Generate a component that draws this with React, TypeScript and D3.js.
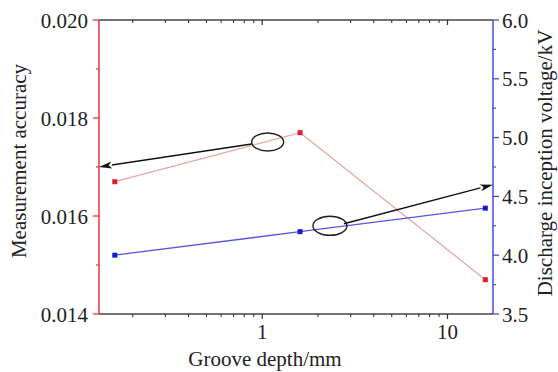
import React from "react";
import * as d3 from "d3";

const depths = [0.16, 1.6, 16];
const accuracy = [0.0167, 0.0177, 0.0147];
const voltage = [4.0, 4.2, 4.4];
const leftTicks = [0.014, 0.016, 0.018, 0.02];
const leftMinor = [0.015, 0.017, 0.019];
const rightTicks = [3.5, 4.0, 4.5, 5.0, 5.5, 6.0];
const rightMinor = [3.75, 4.25, 4.75, 5.25, 5.75];
const xTicks = [1, 10];
const xMinor = [0.2, 0.3, 0.4, 0.5, 0.6, 0.7, 0.8, 0.9, 2, 3, 4, 5, 6, 7, 8, 9];
// annotation: ellipse centers (x, value) and arrow targets
const leftNote = { cx: 1.07, cy: 0.01751, target: 0.017 };
const rightNote = { cx: 2.32, cy: 4.25, target: 4.6 };

const W = 558, H = 372;
const L = 99, R = 493, T = 20, B = 314;
const FONT = "Liberation Serif, Times New Roman, serif";

export default function App() {
  const x = d3.scaleLog().domain([0.1315, 17.6]).range([L, R]);
  const yL = d3.scaleLinear().domain([0.014, 0.02]).range([B, T]);
  const yR = d3.scaleLinear().domain([3.5, 6.0]).range([B, T]);
  const redLine = d3.line<number>().x((_, i) => x(depths[i])).y((d) => yL(d));
  const blueLine = d3.line<number>().x((_, i) => x(depths[i])).y((d) => yR(d));
  const fmt3 = d3.format(".3f");
  const fmt1 = d3.format(".1f");
  const rx = 16, ry = 9;
  const ts = { fontFamily: FONT, fontSize: 21, fill: "#222" } as React.CSSProperties;

  const arrow = (x1: number, y1: number, x2: number, y2: number) => {
    const ang = Math.atan2(y2 - y1, x2 - x1);
    const len = 13, wid = 3.5;
    const bx = x2 - len * Math.cos(ang), by = y2 - len * Math.sin(ang);
    const px = -Math.sin(ang) * wid, py = Math.cos(ang) * wid;
    return (
      <g>
        <line x1={x1} y1={y1} x2={bx} y2={by} stroke="#111" strokeWidth={1.4} />
        <path d={`M${x2},${y2}L${bx + px},${by + py}L${bx + (x2 - bx) * 0.25},${by + (y2 - by) * 0.25}L${bx - px},${by - py}Z`} fill="#111" />
      </g>
    );
  };

  const lcx = x(leftNote.cx), lcy = yL(leftNote.cy);
  const rcx = x(rightNote.cx), rcy = yR(rightNote.cy);

  return (
    <svg width={W} height={H} style={{ position: "absolute", left: 0, top: 0, background: "#fff" }}>
      <rect x={0} y={0} width={W} height={H} fill="#fff" />
      {/* top & bottom axes */}
      <line x1={L} x2={R} y1={T} y2={T} stroke="#444" strokeWidth={1.3} />
      <line x1={L} x2={R} y1={B} y2={B} stroke="#444" strokeWidth={1.3} />
      {xTicks.map((t) => (
        <g key={"xt" + t}>
          <line x1={x(t)} x2={x(t)} y1={B} y2={B + 5} stroke="#333" strokeWidth={1.2} />
          <line x1={x(t)} x2={x(t)} y1={T} y2={T + 5} stroke="#333" strokeWidth={1.2} />
          <text x={x(t)} y={339} textAnchor="middle" style={ts}>{t}</text>
        </g>
      ))}
      {xMinor.map((t) => (
        <g key={"xm" + t}>
          <line x1={x(t)} x2={x(t)} y1={B} y2={B + 3} stroke="#333" strokeWidth={1.1} />
          <line x1={x(t)} x2={x(t)} y1={T} y2={T + 3} stroke="#333" strokeWidth={1.1} />
        </g>
      ))}
      {/* left axis */}
      <line x1={L} x2={L} y1={T} y2={B} stroke="#e8333d" strokeWidth={1.5} />
      {leftTicks.map((t) => (
        <g key={"lt" + t}>
          <line x1={L - 6} x2={L} y1={yL(t)} y2={yL(t)} stroke="#e8333d" strokeWidth={1.3} />
          <text x={88} y={yL(t) + 7.5} textAnchor="end" style={ts}>{fmt3(t)}</text>
        </g>
      ))}
      {leftMinor.map((t) => (
        <line key={"lm" + t} x1={L - 3} x2={L} y1={yL(t)} y2={yL(t)} stroke="#e8333d" strokeWidth={1.2} />
      ))}
      {/* right axis */}
      <line x1={R} x2={R} y1={T} y2={B} stroke="#4a4ad8" strokeWidth={1.5} />
      {rightTicks.map((t) => (
        <g key={"rt" + t}>
          <line x1={R} x2={R + 6} y1={yR(t)} y2={yR(t)} stroke="#4a4ad8" strokeWidth={1.3} />
          <text x={502} y={yR(t) + 7.5} textAnchor="start" style={ts}>{fmt1(t)}</text>
        </g>
      ))}
      {rightMinor.map((t) => (
        <line key={"rm" + t} x1={R} x2={R + 3} y1={yR(t)} y2={yR(t)} stroke="#4a4ad8" strokeWidth={1.2} />
      ))}
      {/* series */}
      <path d={redLine(accuracy) || ""} fill="none" stroke="#e6a4ab" strokeWidth={1.2} />
      <path d={blueLine(voltage) || ""} fill="none" stroke="#5656e0" strokeWidth={1.3} />
      {accuracy.map((v, i) => (
        <rect key={"rp" + i} x={x(depths[i]) - 2.5} y={yL(v) - 2.5} width={5} height={5} fill="#e01e26" />
      ))}
      {voltage.map((v, i) => (
        <rect key={"bp" + i} x={x(depths[i]) - 2.5} y={yR(v) - 2.5} width={5} height={5} fill="#1a1ac8" />
      ))}
      {/* annotations */}
      <ellipse cx={lcx} cy={lcy} rx={rx} ry={ry} fill="none" stroke="#222" strokeWidth={1.4} />
      {arrow(lcx - rx, lcy + 2, L, yL(leftNote.target))}
      <ellipse cx={rcx} cy={rcy} rx={rx + 1} ry={ry + 0.5} fill="none" stroke="#222" strokeWidth={1.4} />
      {arrow(rcx + rx - 2, rcy - 2, R, yR(rightNote.target))}
      {/* titles */}
      <text transform={`translate(26,161) rotate(-90)`} textAnchor="middle" style={ts}>Measurement accuracy</text>
      <text transform={`translate(552,163) rotate(-90)`} textAnchor="middle" style={ts}>Discharge inception voltage/kV</text>
      <text x={265} y={366} textAnchor="middle" style={ts}>Groove depth/mm</text>
    </svg>
  );
}
